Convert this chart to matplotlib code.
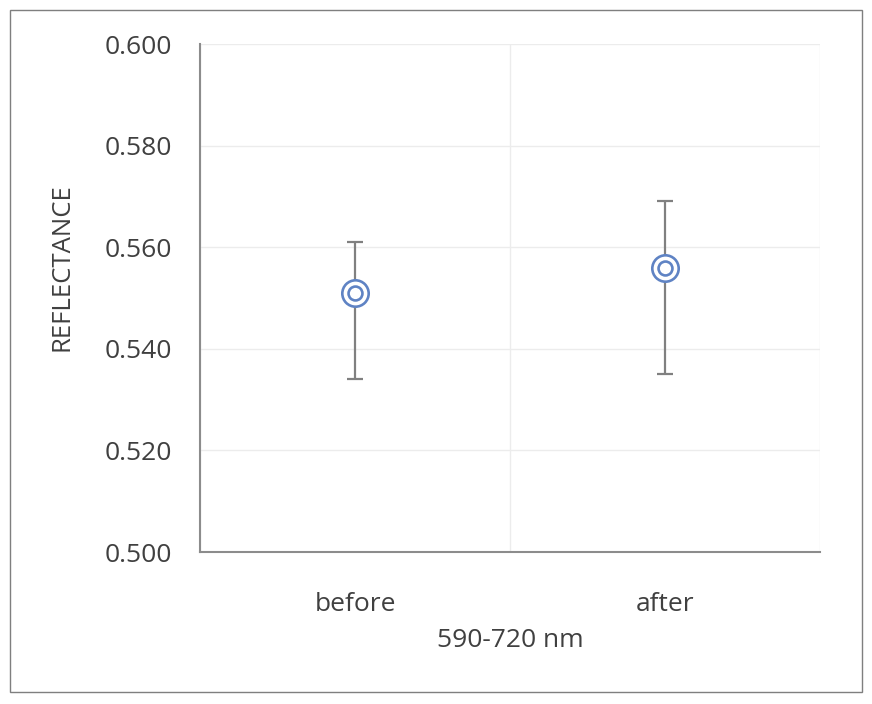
import matplotlib
matplotlib.use("Agg")
import matplotlib.pyplot as plt
from matplotlib.patches import Rectangle
from matplotlib.ticker import FormatStrFormatter

categories = ["before", "after"]
values = [0.551, 0.556]
err_low = [0.534, 0.535]
err_high = [0.561, 0.569]
yticks = [0.500, 0.520, 0.540, 0.560, 0.580, 0.600]

plt.rcParams['font.family'] = ['Open Sans', 'DejaVu Sans']

fig = plt.figure(figsize=(8.72, 7.04), dpi=100)
fig.patches.append(Rectangle((10/872, 12/704), 852/872, 682/704, transform=fig.transFigure,
                             fill=False, edgecolor='#7f7f7f', linewidth=1.0))
ax = fig.add_axes([200/872, 1-552/704, 620/872, 508/704])

x = list(range(len(categories)))
yerr = [[v - lo for v, lo in zip(values, err_low)], [hi - v for v, hi in zip(values, err_high)]]
ax.errorbar(x, values, yerr=yerr, fmt='none', ecolor='#808080', elinewidth=1.6, capsize=6, capthick=1.6, zorder=2)
ax.plot(x, values, 'o', markersize=19, markerfacecolor='white', markeredgecolor='#5f83c4', markeredgewidth=1.9, zorder=3)
ax.plot(x, values, 'o', markersize=10, markerfacecolor='none', markeredgecolor='#5f83c4', markeredgewidth=1.9, zorder=4)

ax.set_xlim(-0.5, 1.5)
ax.set_ylim(0.5, 0.6)
ax.set_yticks(yticks)
ax.yaxis.set_major_formatter(FormatStrFormatter('%.3f'))
ax.set_xticks(x)
ax.set_xticklabels(categories)
ax.set_xticks([-0.5, 0.5, 1.5], minor=True)
ax.grid(True, axis='y', which='major', color='#ececec', linewidth=1.0)
ax.grid(True, axis='x', which='minor', color='#ececec', linewidth=1.0)
ax.set_axisbelow(True)
ax.tick_params(axis='both', which='both', length=0, labelsize=19, labelcolor='#404040')
ax.tick_params(axis='y', pad=20)
ax.tick_params(axis='x', pad=29)
for s in ['top', 'right']:
    ax.spines[s].set_visible(False)
for s in ['left', 'bottom']:
    ax.spines[s].set_color('#8c8c8c')
    ax.spines[s].set_linewidth(1.5)

ax.set_ylabel('REFLECTANCE', fontsize=18.5, color='#404040')
ax.yaxis.set_label_coords(-0.203, 0.561)
ax.set_xlabel('590-720 nm', fontsize=19, color='#404040', labelpad=8)

fig.savefig('out.png', dpi=100)
